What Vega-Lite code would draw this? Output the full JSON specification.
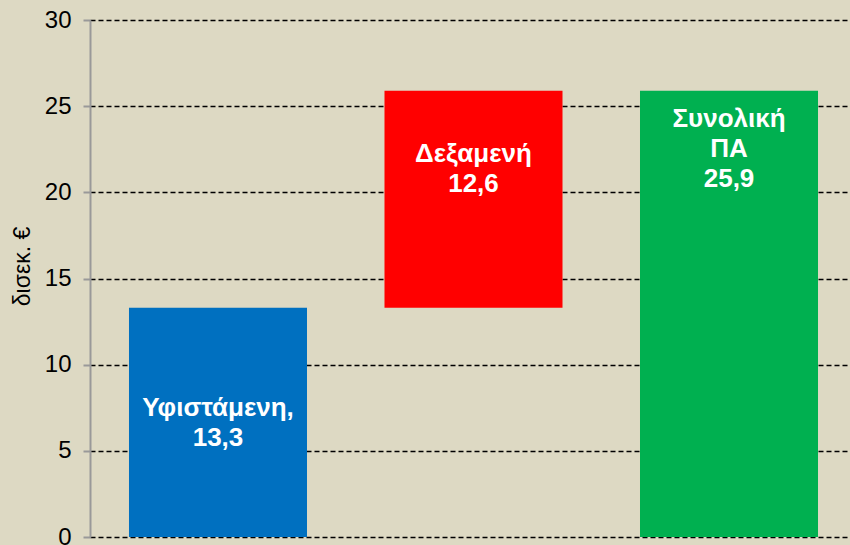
{
  "$schema": "https://vega.github.io/schema/vega-lite/v6.json",
  "width": 760,
  "height": 517,
  "autosize": {"type": "none"},
  "padding": {"left": 90, "top": 20, "right": 0, "bottom": 8},
  "background": "#DDD9C3",
  "config": {
    "view": {"stroke": null, "fill": "#DDD9C3"},
    "font": "Arial, Liberation Sans, sans-serif"
  },
  "data": {
    "values": [
      {"cat": "Υφιστάμενη", "start": 0, "end": 13.3, "color": "Υφιστάμενη", "label": ["Υφιστάμενη,", "13,3"], "labelAt": 7.5},
      {"cat": "Δεξαμενή", "start": 13.3, "end": 25.9, "color": "Δεξαμενή", "label": ["Δεξαμενή", "12,6"], "labelAt": 22.2},
      {"cat": "Συνολική ΠΑ", "start": 0, "end": 25.9, "color": "Συνολική ΠΑ", "label": ["Συνολική", "ΠΑ", "25,9"], "labelAt": 24.25}
    ]
  },
  "encoding": {
    "x": {
      "field": "cat",
      "type": "nominal",
      "sort": null,
      "axis": null,
      "scale": {"range": [0, 767], "paddingInner": 0.3033, "paddingOuter": 0.1526}
    }
  },
  "layer": [
    {
      "mark": {"type": "bar"},
      "encoding": {
        "y": {
          "field": "start",
          "type": "quantitative",
          "scale": {"domain": [0, 30], "nice": false},
          "axis": {
            "values": [0, 5, 10, 15, 20, 25, 30],
            "title": "δισεκ. €",
            "titleFont": "Arial, Liberation Sans, sans-serif",
            "titleFontSize": 23,
            "titleFontWeight": "normal",
            "titleColor": "#000000",
            "titlePadding": 10,
            "titleY": 246,
            "labelFont": "Arial, Liberation Sans, sans-serif",
            "labelFontSize": 24,
            "labelColor": "#000000",
            "labelPadding": 12,
            "domainColor": "#999999",
            "domainWidth": 2,
            "tickColor": "#999999",
            "tickWidth": 2,
            "tickSize": 7,
            "grid": true,
            "gridColor": "#000000",
            "gridDash": [5, 3],
            "gridWidth": 1.5
          }
        },
        "y2": {"field": "end"},
        "color": {
          "field": "color",
          "type": "nominal",
          "legend": null,
          "scale": {
            "domain": ["Υφιστάμενη", "Δεξαμενή", "Συνολική ΠΑ"],
            "range": ["#0070C0", "#FF0000", "#00B050"]
          }
        }
      }
    },
    {
      "mark": {
        "type": "text",
        "color": "#FFFFFF",
        "fontWeight": "bold",
        "fontSize": 26,
        "lineHeight": 30,
        "baseline": "middle",
        "align": "center"
      },
      "encoding": {
        "y": {"field": "labelAt", "type": "quantitative"},
        "text": {"field": "label"}
      }
    }
  ]
}
